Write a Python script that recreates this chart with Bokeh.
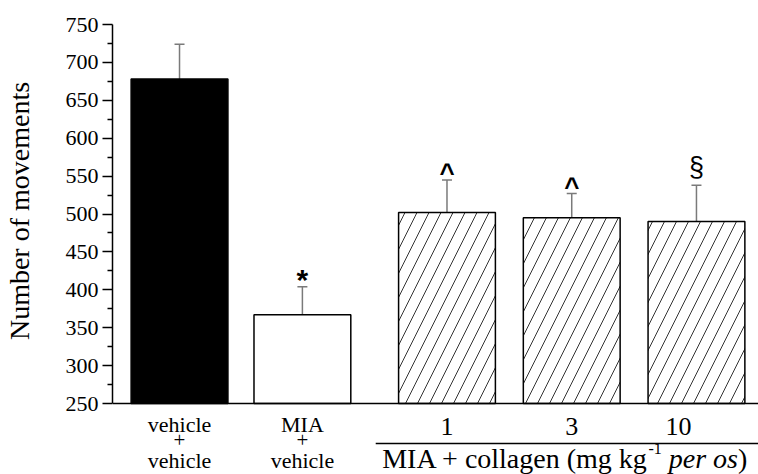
from bokeh.plotting import figure
from bokeh.models import (Range1d, FixedTicker, Label, Whisker, ColumnDataSource,
                          TeeHead, Span)
from bokeh.embed import file_html
from bokeh.resources import INLINE

# ---------------- data ----------------
groups = ["vehicle + vehicle", "MIA + vehicle", "MIA + collagen 1",
          "MIA + collagen 3", "MIA + collagen 10"]
means = [678, 367, 502, 495, 490]
sems = [46, 37, 43, 32, 48]
marks = ["", "*", "^", "^", "§"]
line1 = ["vehicle", "MIA"]
line3 = ["vehicle", "vehicle"]
doses = ["1", "3", "10"]
y_ticks = [250, 300, 350, 400, 450, 500, 550, 600, 650, 700, 750]
group_title = "MIA + collagen (mg kg"
ylabel = "Number of movements"

# ---------------- layout ----------------
xpos = [1, 1.99, 3.155, 4.16, 5.165]
bar_w = 0.78
W, H = 758, 474
B_TOP, B_LEFT = 24, 110
axis_h = 379                      # pixel height of the 250..750 axis
ymin, ymax = y_ticks[0], y_ticks[-1]
ppu = axis_h / (ymax - ymin)      # pixels per data unit (y)
strip = H - B_TOP - axis_h        # room below the axis for category texts
y_lo = ymin - strip / ppu
frame_w = W - B_LEFT
x0, x1 = 0.46, 0.46 + frame_w / 124.5
xppu = frame_w / (x1 - x0)

SERIF = "Liberation Serif"
SANS = "Liberation Sans"

p = figure(width=W, height=H, output_backend="svg", toolbar_location=None,
           x_range=Range1d(x0, x1), y_range=Range1d(y_lo, ymax),
           x_axis_location=None,
           min_border_left=B_LEFT, min_border_right=0,
           min_border_top=B_TOP, min_border_bottom=0)
p.outline_line_color = None
p.grid.visible = False
p.background_fill_color = "white"
p.border_fill_color = "white"

# y axis
ya = p.yaxis[0]
ya.bounds = (ymin, ymax)
ya.ticker = FixedTicker(ticks=y_ticks,
                        minor_ticks=[t + 25 for t in y_ticks[:-1]])
ya.major_tick_out = 10
ya.major_tick_in = 0
ya.minor_tick_out = 5
ya.minor_tick_in = 0
ya.axis_line_width = 1.5
ya.major_tick_line_width = 1.5
ya.minor_tick_line_width = 1.5
ya.major_label_text_font = SERIF
ya.major_label_text_font_size = "22px"
ya.major_label_text_color = "black"
ya.major_label_standoff = 4
# leading no-break spaces move the visible title up to the centre of the 250..750 axis
ya.axis_label = "\u00a0" * 11 + ylabel
ya.axis_label_text_font = SERIF
ya.axis_label_text_font_size = "28px"
ya.axis_label_text_font_style = "normal"
ya.axis_label_text_color = "black"
ya.axis_label_standoff = 28

# x axis line at 250
p.add_layout(Span(location=ymin, dimension="width", line_color="black",
                  line_width=1.5))

# bars
fills = ["black", "white", "white", "white", "white"]
hatches = [" ", " ", "/", "/", "/"]
src = ColumnDataSource(dict(
    x=xpos, mean=means, upper=[m + s for m, s in zip(means, sems)],
    fill=fills, hatch=hatches, group=groups))
p.vbar(x="x", top="mean", bottom=ymin, width=bar_w, source=src,
       fill_color="fill", line_color="black", line_width=1.5,
       hatch_pattern="hatch", hatch_color="#333333", hatch_weight=1,
       hatch_scale=24)

# error bars
p.add_layout(Whisker(source=src, base="x", lower="mean", upper="upper",
                     dimension="height", line_color="#7a7a7a", line_width=1.5,
                     lower_head=None,
                     upper_head=TeeHead(size=10, line_color="#7a7a7a",
                                        line_width=1.5)))

# significance marks
mark_style = {
    "*": dict(text_font=SANS, text_font_style="bold", text_font_size="30px", y_offset=7),
    "^": dict(text_font=SANS, text_font_style="bold", text_font_size="26px", y_offset=7),
    "§": dict(text_font=SANS, text_font_style="normal", text_font_size="27px", y_offset=18),
}
for i, mk in enumerate(marks):
    if not mk:
        continue
    st = mark_style[mk]
    p.add_layout(Label(x=xpos[i], y=means[i] + sems[i], text=mk,
                       text_align="center", text_baseline="alphabetic",
                       text_color="black", **st))


# ---------------- category texts below the axis ----------------
def below(x, dy, text, size, **kw):
    # dy: distance (px) of the text anchor below the x axis
    p.add_layout(Label(x=x, y=ymin, y_offset=-dy, text=text,
                       text_align=kw.pop("align", "center"),
                       text_baseline="alphabetic", text_font=kw.pop("font", SERIF),
                       text_font_size=size, text_color="black", **kw))


for i in range(2):
    below(xpos[i], 21, line1[i], "22px")
    below(xpos[i], 36, "+", "21px")
    below(xpos[i], 57, line3[i], "22px")

dose_dx = [0, 0, -18]
for j, d in enumerate(doses):
    below(xpos[2 + j], 23, d, "26px", x_offset=dose_dx[j])

# group line under the doses
y_line = ymin - 40 / ppu
p.segment(x0=xpos[2] - 71.5 / xppu, x1=x1, y0=y_line, y1=y_line,
          line_color="black", line_width=1.5)

# group title: "MIA + collagen (mg kg" + sup "-1" + " " + italic "per os" + ")"
fs = 28
w_main = 9.507 * fs
w_sup = 0.833 * 16
w_sp = 0.25 * fs
w_it = 2.472 * fs
w_par = 0.333 * fs
total = w_main + w_sup + w_sp + w_it + w_par
start = -7 - total / 2          # relative to centre of bar "3"
below(xpos[3], 55, group_title, "28px", align="left", x_offset=start)
below(xpos[3], 55 - 10, "-1", "16px", align="left", x_offset=start + w_main)
below(xpos[3], 55, "per os", "28px", align="left", text_font_style="italic",
      x_offset=start + w_main + w_sup + w_sp)
below(xpos[3], 55, ")", "28px", align="left",
      x_offset=start + w_main + w_sup + w_sp + w_it)

open("out.html", "w").write(file_html(p, INLINE))
